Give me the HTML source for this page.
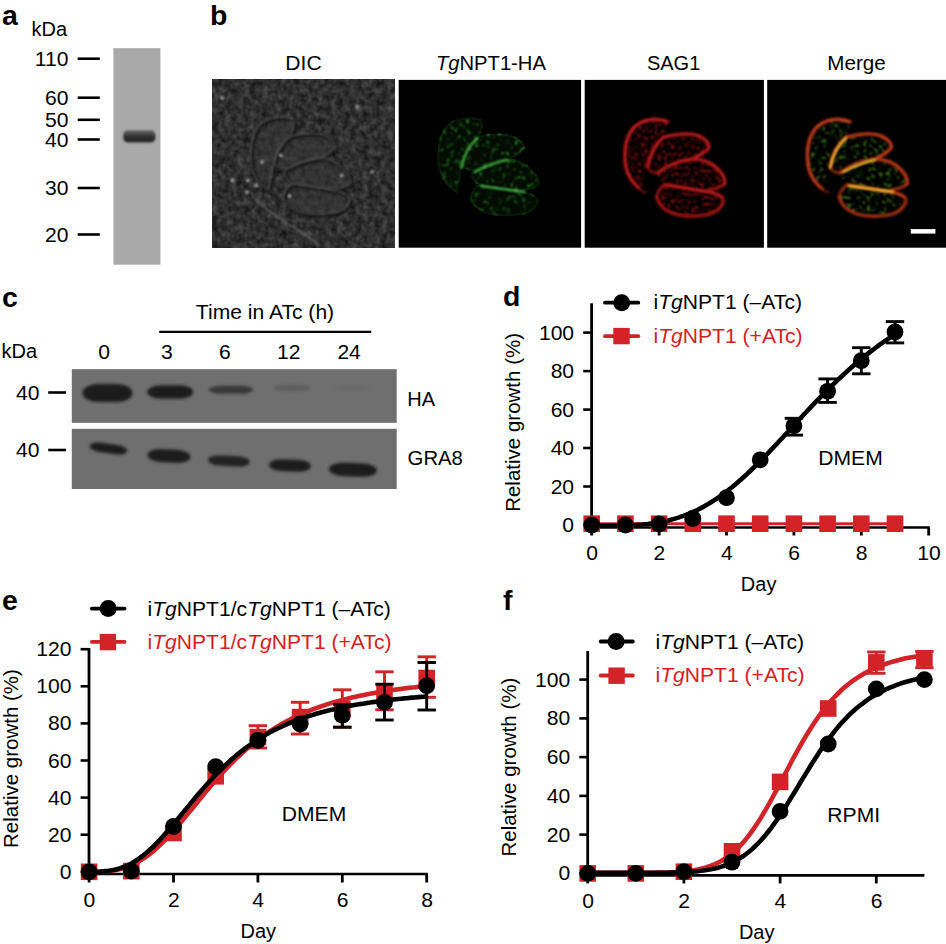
<!DOCTYPE html><html><head><meta charset="utf-8"><style>html,body{margin:0;padding:0;background:#fff;overflow:hidden;width:946px;height:944px;}svg{display:block;font-family:"Liberation Sans", sans-serif;}</style></head><body>
<svg width="946" height="944" viewBox="0 0 946 944">
<defs>
<g id="cells"><path d="M82,40 C70,37 55,38 47,48 C40,58 38,76 41,90 C44,100 50,107 57,111 C60,104 60,96 62,88 C65,76 71,64 79,57 C83,51 84,44 82,40 Z"/><path d="M63,84 C66,70 72,61 81,57 C92,54 106,54 114,57 C121,60 125,65 125,68 C120,74 114,78 106,80 C95,82 84,86 76,90 C70,91 65,88 63,84 Z"/><path d="M73,93 C80,86 95,80 107,79 C118,79 126,84 132,90 C137,95 141,100 140,104 C136,108 129,110 120,110 C105,109 92,107 82,105 C77,103 73,98 73,93 Z"/><path d="M72,118 C74,110 78,106 82,105 C95,107 110,110 124,112 C132,114 138,117 139,121 C137,128 131,133 122,134 C108,136 95,136 86,132 C78,128 73,123 72,118 Z"/></g>
<filter id="blur1" x="-20%" y="-20%" width="140%" height="140%"><feGaussianBlur stdDeviation="1"/></filter>
<filter id="blur2" x="-50%" y="-50%" width="200%" height="200%"><feGaussianBlur stdDeviation="1.7"/></filter>
<filter id="blur15" x="-50%" y="-50%" width="200%" height="200%"><feGaussianBlur stdDeviation="1.6"/></filter>
<filter id="blur3" x="-50%" y="-50%" width="200%" height="200%"><feGaussianBlur stdDeviation="3"/></filter>
<filter id="dic" x="0" y="0" width="100%" height="100%" color-interpolation-filters="sRGB"><feTurbulence type="fractalNoise" baseFrequency="0.16" numOctaves="2" seed="3" result="n"/><feColorMatrix in="n" type="matrix" values="0.3 0 0 0 0.035  0.3 0 0 0 0.035  0.3 0 0 0 0.035  0 0 0 0 1"/></filter>
<filter id="spG" x="0" y="0" width="100%" height="100%" color-interpolation-filters="sRGB"><feTurbulence type="fractalNoise" baseFrequency="0.25" numOctaves="2" seed="7" result="n"/><feColorMatrix in="n" type="matrix" values="0 0 0 0 0.22  0 0 0 0 0.68  0 0 0 0 0.22  4.0 0 0 0 -2.3" result="c"/><feGaussianBlur in="c" stdDeviation="0.8" result="cb"/><feComposite in="cb" in2="SourceAlpha" operator="in"/></filter>
<filter id="spR" x="0" y="0" width="100%" height="100%" color-interpolation-filters="sRGB"><feTurbulence type="fractalNoise" baseFrequency="0.3" numOctaves="2" seed="11" result="n"/><feColorMatrix in="n" type="matrix" values="0 0 0 0 0.7  0 0 0 0 0.08  0 0 0 0 0.08  4.0 0 0 0 -2.0" result="c"/><feGaussianBlur in="c" stdDeviation="0.8" result="cb"/><feComposite in="cb" in2="SourceAlpha" operator="in"/></filter>
<filter id="spM" x="0" y="0" width="100%" height="100%" color-interpolation-filters="sRGB"><feTurbulence type="fractalNoise" baseFrequency="0.25" numOctaves="2" seed="5" result="n"/><feColorMatrix in="n" type="matrix" values="0 0 0 0 0.3  0 0 0 0 0.6  0 0 0 0 0.12  4.0 0 0 0 -2.2" result="c"/><feGaussianBlur in="c" stdDeviation="0.8" result="cb"/><feComposite in="cb" in2="SourceAlpha" operator="in"/></filter>
</defs>
<text transform="translate(2.0,25.0) scale(1.055,1)" font-size="27" text-anchor="start" fill="#000" font-weight="bold" >a</text>
<text transform="translate(31.6,35.6) scale(1.000,1)" font-size="20" text-anchor="start" fill="#000" font-weight="normal" >kDa</text>
<text transform="translate(68.5,65.7) scale(1.055,1)" font-size="20" text-anchor="end" fill="#000" font-weight="normal" >110</text>
<line x1="77.7" y1="58.7" x2="99.8" y2="58.7" stroke="#000" stroke-width="2.6" stroke-linecap="butt"/>
<text transform="translate(68.5,104.7) scale(1.055,1)" font-size="20" text-anchor="end" fill="#000" font-weight="normal" >60</text>
<line x1="77.7" y1="97.7" x2="99.8" y2="97.7" stroke="#000" stroke-width="2.6" stroke-linecap="butt"/>
<text transform="translate(68.5,126.8) scale(1.055,1)" font-size="20" text-anchor="end" fill="#000" font-weight="normal" >50</text>
<line x1="77.7" y1="119.8" x2="99.8" y2="119.8" stroke="#000" stroke-width="2.6" stroke-linecap="butt"/>
<text transform="translate(68.5,146.5) scale(1.055,1)" font-size="20" text-anchor="end" fill="#000" font-weight="normal" >40</text>
<line x1="77.7" y1="139.5" x2="99.8" y2="139.5" stroke="#000" stroke-width="2.6" stroke-linecap="butt"/>
<text transform="translate(68.5,195.0) scale(1.055,1)" font-size="20" text-anchor="end" fill="#000" font-weight="normal" >30</text>
<line x1="77.7" y1="188.0" x2="99.8" y2="188.0" stroke="#000" stroke-width="2.6" stroke-linecap="butt"/>
<text transform="translate(68.5,241.5) scale(1.055,1)" font-size="20" text-anchor="end" fill="#000" font-weight="normal" >20</text>
<line x1="77.7" y1="234.5" x2="99.8" y2="234.5" stroke="#000" stroke-width="2.6" stroke-linecap="butt"/>
<rect x="113.4" y="48.2" width="47" height="216.5" fill="#a9a9a9"/>
<linearGradient id="gband" x1="0" y1="0" x2="0" y2="1"><stop offset="0" stop-color="#6a6a6a"/><stop offset="0.45" stop-color="#363636"/><stop offset="0.8" stop-color="#252525"/><stop offset="1" stop-color="#2e2e2e"/></linearGradient>
<rect x="123.3" y="130.2" width="32" height="12.3" rx="4" ry="5" fill="url(#gband)" filter="url(#blur1)"/>
<text transform="translate(210.0,25.0) scale(1.055,1)" font-size="27" text-anchor="start" fill="#000" font-weight="bold" >b</text>
<text transform="translate(303.5,69.8) scale(1.055,1)" font-size="20" text-anchor="middle" fill="#000" font-weight="normal" >DIC</text>
<text transform="translate(490.9,69.8) scale(1.010,1)" font-size="20" text-anchor="middle" fill="#000" font-weight="normal" ><tspan font-style="italic">Tg</tspan>NPT1-HA</text>
<text transform="translate(673.6,69.6) scale(1.000,1)" font-size="20" text-anchor="middle" fill="#000" font-weight="normal" >SAG1</text>
<text transform="translate(856.5,70.0) scale(1.030,1)" font-size="20" text-anchor="middle" fill="#000" font-weight="normal" >Merge</text>
<rect x="212.1" y="79.9" width="182.1" height="167.8" fill="#333" filter="url(#dic)"/>
<g transform="translate(212.1,79.9)">
<use href="#cells" fill="#383838" opacity="0.5" filter="url(#blur1)"/>
<use href="#cells" fill="none" stroke="#161616" stroke-width="2.6" opacity="0.9" filter="url(#blur1)" transform="translate(0.8,0.8)"/>
<use href="#cells" fill="none" stroke="#5a5a5a" stroke-width="1.2" opacity="0.8" filter="url(#blur1)" transform="translate(-1.2,-1.2)"/>
<circle cx="35.8" cy="100.6" r="1.9" fill="#a8a8a8" opacity="0.9" filter="url(#blur1)"/>
<circle cx="44.0" cy="105.4" r="1.9" fill="#a8a8a8" opacity="0.9" filter="url(#blur1)"/>
<circle cx="34.8" cy="112.2" r="1.9" fill="#a8a8a8" opacity="0.9" filter="url(#blur1)"/>
<circle cx="68.7" cy="75.4" r="1.9" fill="#a8a8a8" opacity="0.9" filter="url(#blur1)"/>
<circle cx="49.9" cy="82.2" r="1.9" fill="#a8a8a8" opacity="0.9" filter="url(#blur1)"/>
<circle cx="77.4" cy="116.0" r="1.9" fill="#a8a8a8" opacity="0.9" filter="url(#blur1)"/>
<circle cx="129.6" cy="95.7" r="1.9" fill="#a8a8a8" opacity="0.9" filter="url(#blur1)"/>
<circle cx="20.3" cy="100.6" r="1.9" fill="#a8a8a8" opacity="0.9" filter="url(#blur1)"/>
<circle cx="160.0" cy="92.0" r="1.9" fill="#a8a8a8" opacity="0.9" filter="url(#blur1)"/>
<circle cx="145.0" cy="27.0" r="1.9" fill="#a8a8a8" opacity="0.9" filter="url(#blur1)"/>
<circle cx="10.0" cy="18.0" r="1.9" fill="#a8a8a8" opacity="0.9" filter="url(#blur1)"/>
<path d="M40,116 C50,126 58,132 67,138 C80,147 95,155 108,166" fill="none" stroke="#6a6a6a" stroke-width="1.8" opacity="0.75" filter="url(#blur1)"/>
</g>
<rect x="398.7" y="79.9" width="182.4" height="167.8" fill="#000"/>
<g transform="translate(398.7,79.9)">
<use href="#cells" fill="#030b03" stroke="#071a07" stroke-width="2"/>
<g filter="url(#spG)"><use href="#cells" fill="#fff" stroke="#fff" stroke-width="3"/></g>
<g fill="none" stroke="#4cbf4c" stroke-width="2.2" stroke-linecap="round" filter="url(#blur1)" opacity="0.9"><path d="M79,58 C71,65 65,76 63,88"/><path d="M76,92 C88,86 98,82 108,80"/><path d="M82,106 C95,108 110,110 126,112"/></g>
</g>
<rect x="584.7" y="79.9" width="179.2" height="167.8" fill="#000"/>
<g transform="translate(584.7,79.9)">
<g filter="url(#spR)" opacity="0.8"><use href="#cells" fill="#fff"/></g>
<g fill="none" stroke="#901212" stroke-width="4.5" stroke-linecap="round" filter="url(#blur2)" opacity="0.45"><path d="M83,42 C72,37 57,39 48,49 C41,58 39,72 41,86 C43,96 48,103 54,108" opacity="1.00"/><path d="M54,108 C56,111 59,112 61,112" opacity="0.35"/><path d="M79,57 C71,64 65,75 63,87" opacity="1.00"/><path d="M80,57 C92,54 106,53 114,56 C121,59 125,64 124,68 C121,72 116,75 110,78" opacity="1.00"/><path d="M73,93 C82,86 95,81 107,79 C118,79 127,83 133,89 C138,94 141,99 140,104" opacity="1.00"/><path d="M140,104 C137,107 131,109 124,110" opacity="0.70"/><path d="M80,105 C95,107 110,110 124,112 C130,113 135,115 138,118" opacity="1.00"/><path d="M72,117 C74,125 79,130 87,133 C97,137 110,137 122,135 C131,133 137,128 139,121" opacity="0.80"/><path d="M72,117 C73,111 76,107 80,105" opacity="0.60"/><path d="M63,87 C64,91 68,93 73,93" opacity="0.50"/></g>
<g fill="none" stroke="#c41c1c" stroke-width="2.4" stroke-linecap="round" filter="url(#blur1)"><path d="M83,42 C72,37 57,39 48,49 C41,58 39,72 41,86 C43,96 48,103 54,108" opacity="1.00"/><path d="M54,108 C56,111 59,112 61,112" opacity="0.35"/><path d="M79,57 C71,64 65,75 63,87" opacity="1.00"/><path d="M80,57 C92,54 106,53 114,56 C121,59 125,64 124,68 C121,72 116,75 110,78" opacity="1.00"/><path d="M73,93 C82,86 95,81 107,79 C118,79 127,83 133,89 C138,94 141,99 140,104" opacity="1.00"/><path d="M140,104 C137,107 131,109 124,110" opacity="0.70"/><path d="M80,105 C95,107 110,110 124,112 C130,113 135,115 138,118" opacity="1.00"/><path d="M72,117 C74,125 79,130 87,133 C97,137 110,137 122,135 C131,133 137,128 139,121" opacity="0.80"/><path d="M72,117 C73,111 76,107 80,105" opacity="0.60"/><path d="M63,87 C64,91 68,93 73,93" opacity="0.50"/></g>
</g>
<rect x="767.2" y="79.9" width="178.8" height="167.8" fill="#000"/>
<g transform="translate(767.2,79.9)">
<g filter="url(#spM)"><use href="#cells" fill="#fff"/></g>
<g fill="none" stroke="#902010" stroke-width="4.5" stroke-linecap="round" filter="url(#blur2)" opacity="0.45"><path d="M83,42 C72,37 57,39 48,49 C41,58 39,72 41,86 C43,96 48,103 54,108" opacity="1.00"/><path d="M54,108 C56,111 59,112 61,112" opacity="0.35"/><path d="M79,57 C71,64 65,75 63,87" opacity="1.00"/><path d="M80,57 C92,54 106,53 114,56 C121,59 125,64 124,68 C121,72 116,75 110,78" opacity="1.00"/><path d="M73,93 C82,86 95,81 107,79 C118,79 127,83 133,89 C138,94 141,99 140,104" opacity="1.00"/><path d="M140,104 C137,107 131,109 124,110" opacity="0.70"/><path d="M80,105 C95,107 110,110 124,112 C130,113 135,115 138,118" opacity="1.00"/><path d="M72,117 C74,125 79,130 87,133 C97,137 110,137 122,135 C131,133 137,128 139,121" opacity="0.80"/><path d="M72,117 C73,111 76,107 80,105" opacity="0.60"/><path d="M63,87 C64,91 68,93 73,93" opacity="0.50"/></g>
<g fill="none" stroke="#c8401c" stroke-width="2.4" stroke-linecap="round" filter="url(#blur1)"><path d="M83,42 C72,37 57,39 48,49 C41,58 39,72 41,86 C43,96 48,103 54,108" opacity="1.00"/><path d="M54,108 C56,111 59,112 61,112" opacity="0.35"/><path d="M79,57 C71,64 65,75 63,87" opacity="1.00"/><path d="M80,57 C92,54 106,53 114,56 C121,59 125,64 124,68 C121,72 116,75 110,78" opacity="1.00"/><path d="M73,93 C82,86 95,81 107,79 C118,79 127,83 133,89 C138,94 141,99 140,104" opacity="1.00"/><path d="M140,104 C137,107 131,109 124,110" opacity="0.70"/><path d="M80,105 C95,107 110,110 124,112 C130,113 135,115 138,118" opacity="1.00"/><path d="M72,117 C74,125 79,130 87,133 C97,137 110,137 122,135 C131,133 137,128 139,121" opacity="0.80"/><path d="M72,117 C73,111 76,107 80,105" opacity="0.60"/><path d="M63,87 C64,91 68,93 73,93" opacity="0.50"/></g>
<g fill="none" stroke="#e0c030" stroke-width="2.2" stroke-linecap="round" filter="url(#blur1)"><path d="M79,58 C71,65 65,76 63,88"/><path d="M76,92 C88,86 98,82 108,80"/><path d="M82,106 C95,108 110,110 126,112"/></g>
</g>
<rect x="910.8" y="229.1" width="24.6" height="4.5" fill="#fff"/>
<text transform="translate(2.0,307.0) scale(1.055,1)" font-size="27" text-anchor="start" fill="#000" font-weight="bold" >c</text>
<text transform="translate(265.0,318.5) scale(1.055,1)" font-size="20" text-anchor="middle" fill="#000" font-weight="normal" >Time in ATc (h)</text>
<line x1="159.2" y1="331.8" x2="371.2" y2="331.8" stroke="#000" stroke-width="2.2" stroke-linecap="butt"/>
<text transform="translate(1.5,357.8) scale(1.000,1)" font-size="20" text-anchor="start" fill="#000" font-weight="normal" >kDa</text>
<text transform="translate(104.2,359.2) scale(1.055,1)" font-size="20" text-anchor="middle" fill="#000" font-weight="normal" >0</text>
<text transform="translate(166.8,359.2) scale(1.055,1)" font-size="20" text-anchor="middle" fill="#000" font-weight="normal" >3</text>
<text transform="translate(224.9,359.2) scale(1.055,1)" font-size="20" text-anchor="middle" fill="#000" font-weight="normal" >6</text>
<text transform="translate(288.7,359.2) scale(1.055,1)" font-size="20" text-anchor="middle" fill="#000" font-weight="normal" >12</text>
<text transform="translate(349.1,359.2) scale(1.055,1)" font-size="20" text-anchor="middle" fill="#000" font-weight="normal" >24</text>
<rect x="71.8" y="369.2" width="324.9" height="53.6" fill="#6f6f6f"/>
<rect x="71.8" y="428.8" width="324.9" height="60.2" fill="#6f6f6f"/>
<text transform="translate(39.5,400.0) scale(1.055,1)" font-size="20" text-anchor="end" fill="#000" font-weight="normal" >40</text>
<line x1="48.2" y1="392.5" x2="66.0" y2="392.5" stroke="#000" stroke-width="2.6" stroke-linecap="butt"/>
<text transform="translate(39.5,457.0) scale(1.055,1)" font-size="20" text-anchor="end" fill="#000" font-weight="normal" >40</text>
<line x1="48.2" y1="450.0" x2="66.0" y2="450.0" stroke="#000" stroke-width="2.6" stroke-linecap="butt"/>
<text transform="translate(407.3,405.5) scale(1.000,1)" font-size="20" text-anchor="start" fill="#000" font-weight="normal" >HA</text>
<text transform="translate(407.6,465.0) scale(1.015,1)" font-size="20" text-anchor="start" fill="#000" font-weight="normal" >GRA8</text>
<rect x="82.5" y="384.0" width="50.0" height="18.0" rx="15.0" ry="9.0" fill="#1a1a1a" transform="rotate(0.0 107.5 393.0)" filter="url(#blur2)"/>
<rect x="147.2" y="385.2" width="46.0" height="13.5" rx="13.8" ry="6.8" fill="#1f1f1f" transform="rotate(0.0 170.2 392.0)" filter="url(#blur2)"/>
<rect x="209.0" y="385.8" width="44.0" height="8.0" rx="13.2" ry="4.0" fill="#383838" transform="rotate(0.0 231.0 389.8)" filter="url(#blur2)"/>
<rect x="273.0" y="385.0" width="38.0" height="6.0" rx="11.4" ry="3.0" fill="#5e5e5e" transform="rotate(0.0 292.0 388.0)" filter="url(#blur2)"/>
<rect x="334.0" y="385.0" width="36.0" height="6.0" rx="10.8" ry="3.0" fill="#6a6a6a" transform="rotate(0.0 352.0 388.0)" filter="url(#blur2)"/>
<rect x="89.5" y="443.8" width="38.0" height="9.5" rx="11.4" ry="4.8" fill="#1f1f1f" transform="rotate(8.0 108.5 448.5)" filter="url(#blur2)"/>
<rect x="147.5" y="449.5" width="43.0" height="13.0" rx="12.9" ry="6.5" fill="#1c1c1c" transform="rotate(3.0 169.0 456.0)" filter="url(#blur2)"/>
<rect x="208.0" y="455.8" width="42.0" height="10.5" rx="12.6" ry="5.2" fill="#202020" transform="rotate(3.0 229.0 461.0)" filter="url(#blur2)"/>
<rect x="269.0" y="459.4" width="42.0" height="12.0" rx="12.6" ry="6.0" fill="#1e1e1e" transform="rotate(2.0 290.0 465.4)" filter="url(#blur2)"/>
<rect x="329.0" y="462.9" width="48.0" height="13.5" rx="14.4" ry="6.8" fill="#1c1c1c" transform="rotate(2.0 353.0 469.6)" filter="url(#blur2)"/>
<text transform="translate(503.0,306.2) scale(1.055,1)" font-size="27" text-anchor="start" fill="#000" font-weight="bold" >d</text>
<line x1="591.6" y1="303.3" x2="591.6" y2="528.8" stroke="#000" stroke-width="2.8" stroke-linecap="butt"/>
<line x1="590.2" y1="527.5" x2="929.8" y2="527.5" stroke="#000" stroke-width="2.6" stroke-linecap="butt"/>
<line x1="583.2" y1="525.0" x2="591.6" y2="525.0" stroke="#000" stroke-width="2.6" stroke-linecap="butt"/>
<text transform="translate(574.1,532.0) scale(1.055,1)" font-size="20" text-anchor="end" fill="#000" font-weight="normal" >0</text>
<line x1="583.2" y1="486.5" x2="591.6" y2="486.5" stroke="#000" stroke-width="2.6" stroke-linecap="butt"/>
<text transform="translate(574.1,493.5) scale(1.055,1)" font-size="20" text-anchor="end" fill="#000" font-weight="normal" >20</text>
<line x1="583.2" y1="448.0" x2="591.6" y2="448.0" stroke="#000" stroke-width="2.6" stroke-linecap="butt"/>
<text transform="translate(574.1,455.0) scale(1.055,1)" font-size="20" text-anchor="end" fill="#000" font-weight="normal" >40</text>
<line x1="583.2" y1="409.6" x2="591.6" y2="409.6" stroke="#000" stroke-width="2.6" stroke-linecap="butt"/>
<text transform="translate(574.1,416.6) scale(1.055,1)" font-size="20" text-anchor="end" fill="#000" font-weight="normal" >60</text>
<line x1="583.2" y1="371.1" x2="591.6" y2="371.1" stroke="#000" stroke-width="2.6" stroke-linecap="butt"/>
<text transform="translate(574.1,378.1) scale(1.055,1)" font-size="20" text-anchor="end" fill="#000" font-weight="normal" >80</text>
<line x1="583.2" y1="332.6" x2="591.6" y2="332.6" stroke="#000" stroke-width="2.6" stroke-linecap="butt"/>
<text transform="translate(574.1,339.6) scale(1.055,1)" font-size="20" text-anchor="end" fill="#000" font-weight="normal" >100</text>
<line x1="591.7" y1="527.5" x2="591.7" y2="535.5" stroke="#000" stroke-width="2.8" stroke-linecap="butt"/>
<text transform="translate(592.0,560.1) scale(1.055,1)" font-size="20" text-anchor="middle" fill="#000" font-weight="normal" >0</text>
<line x1="659.1" y1="527.5" x2="659.1" y2="535.5" stroke="#000" stroke-width="2.8" stroke-linecap="butt"/>
<text transform="translate(659.4,560.1) scale(1.055,1)" font-size="20" text-anchor="middle" fill="#000" font-weight="normal" >2</text>
<line x1="726.5" y1="527.5" x2="726.5" y2="535.5" stroke="#000" stroke-width="2.8" stroke-linecap="butt"/>
<text transform="translate(726.8,560.1) scale(1.055,1)" font-size="20" text-anchor="middle" fill="#000" font-weight="normal" >4</text>
<line x1="793.9" y1="527.5" x2="793.9" y2="535.5" stroke="#000" stroke-width="2.8" stroke-linecap="butt"/>
<text transform="translate(794.2,560.1) scale(1.055,1)" font-size="20" text-anchor="middle" fill="#000" font-weight="normal" >6</text>
<line x1="861.3" y1="527.5" x2="861.3" y2="535.5" stroke="#000" stroke-width="2.8" stroke-linecap="butt"/>
<text transform="translate(861.6,560.1) scale(1.055,1)" font-size="20" text-anchor="middle" fill="#000" font-weight="normal" >8</text>
<line x1="928.7" y1="527.5" x2="928.7" y2="535.5" stroke="#000" stroke-width="2.8" stroke-linecap="butt"/>
<text transform="translate(929.0,560.1) scale(1.055,1)" font-size="20" text-anchor="middle" fill="#000" font-weight="normal" >10</text>
<text transform="translate(520.4,422.4) rotate(-90)" font-size="20.5" text-anchor="middle">Relative growth (%)</text>
<text transform="translate(758.6,590.6) scale(1.000,1)" font-size="20" text-anchor="middle" fill="#000" font-weight="normal" >Day</text>
<text transform="translate(850.5,465.3) scale(1.055,1)" font-size="20" text-anchor="middle" fill="#000" font-weight="normal" >DMEM</text>
<line x1="591.7" y1="523.7" x2="895.0" y2="523.7" stroke="#d12328" stroke-width="3.0" stroke-linecap="butt"/>
<path d="M591.7,525.8 L594.2,525.8 L596.8,525.8 L599.3,525.8 L601.9,525.8 L604.4,525.8 L607.0,525.8 L609.5,525.8 L612.1,525.8 L614.6,525.7 L617.2,525.7 L619.7,525.7 L622.3,525.6 L624.8,525.5 L627.4,525.4 L629.9,525.3 L632.5,525.2 L635.0,525.1 L637.6,524.9 L640.1,524.7 L642.7,524.5 L645.2,524.2 L647.8,524.0 L650.3,523.6 L652.9,523.3 L655.4,522.9 L658.0,522.5 L660.5,522.1 L663.1,521.6 L665.6,521.0 L668.2,520.4 L670.7,519.8 L673.3,519.1 L675.8,518.4 L678.4,517.6 L680.9,516.7 L683.5,515.8 L686.0,514.9 L688.6,513.9 L691.1,512.8 L693.6,511.7 L696.2,510.5 L698.7,509.2 L701.3,507.9 L703.8,506.6 L706.4,505.1 L708.9,503.6 L711.5,502.0 L714.0,500.4 L716.6,498.7 L719.1,497.0 L721.7,495.2 L724.2,493.3 L726.8,491.3 L729.3,489.3 L731.9,487.3 L734.4,485.2 L737.0,483.0 L739.5,480.8 L742.1,478.5 L744.6,476.2 L747.2,473.9 L749.7,471.5 L752.3,469.0 L754.8,466.5 L757.4,464.0 L759.9,461.4 L762.5,458.8 L765.0,456.2 L767.6,453.6 L770.1,450.9 L772.7,448.2 L775.2,445.5 L777.8,442.8 L780.3,440.0 L782.9,437.3 L785.4,434.5 L788.0,431.8 L790.5,429.0 L793.1,426.2 L795.6,423.5 L798.1,420.7 L800.7,418.0 L803.2,415.2 L805.8,412.5 L808.3,409.8 L810.9,407.1 L813.4,404.4 L816.0,401.7 L818.5,399.1 L821.1,396.5 L823.6,393.9 L826.2,391.3 L828.7,388.8 L831.3,386.2 L833.8,383.8 L836.4,381.3 L838.9,378.9 L841.5,376.5 L844.0,374.1 L846.6,371.8 L849.1,369.5 L851.7,367.2 L854.2,365.0 L856.8,362.8 L859.3,360.7 L861.9,358.5 L864.4,356.5 L867.0,354.4 L869.5,352.4 L872.1,350.4 L874.6,348.5 L877.2,346.6 L879.7,344.7 L882.3,342.9 L884.8,341.1 L887.4,339.3 L889.9,337.6 L892.5,335.9 L895.0,334.2" fill="none" stroke="#000" stroke-width="4.6" stroke-linejoin="round"/>
<rect x="583.4" y="515.4" width="16.6" height="16.6" fill="#d12328"/>
<rect x="617.1" y="515.4" width="16.6" height="16.6" fill="#d12328"/>
<rect x="650.8" y="515.4" width="16.6" height="16.6" fill="#d12328"/>
<rect x="684.5" y="515.4" width="16.6" height="16.6" fill="#d12328"/>
<rect x="718.2" y="515.4" width="16.6" height="16.6" fill="#d12328"/>
<rect x="751.9" y="515.4" width="16.6" height="16.6" fill="#d12328"/>
<rect x="785.6" y="515.4" width="16.6" height="16.6" fill="#d12328"/>
<rect x="819.3" y="515.4" width="16.6" height="16.6" fill="#d12328"/>
<rect x="853.0" y="515.4" width="16.6" height="16.6" fill="#d12328"/>
<rect x="886.7" y="515.4" width="16.6" height="16.6" fill="#d12328"/>
<line x1="793.9" y1="418.3" x2="793.9" y2="435.1" stroke="#000" stroke-width="2.9" stroke-linecap="butt"/>
<line x1="784.7" y1="418.3" x2="803.1" y2="418.3" stroke="#000" stroke-width="2.9" stroke-linecap="butt"/>
<line x1="784.7" y1="435.1" x2="803.1" y2="435.1" stroke="#000" stroke-width="2.9" stroke-linecap="butt"/>
<line x1="827.6" y1="378.9" x2="827.6" y2="402.4" stroke="#000" stroke-width="2.9" stroke-linecap="butt"/>
<line x1="818.4" y1="378.9" x2="836.8" y2="378.9" stroke="#000" stroke-width="2.9" stroke-linecap="butt"/>
<line x1="818.4" y1="402.4" x2="836.8" y2="402.4" stroke="#000" stroke-width="2.9" stroke-linecap="butt"/>
<line x1="861.3" y1="347.7" x2="861.3" y2="373.8" stroke="#000" stroke-width="2.9" stroke-linecap="butt"/>
<line x1="852.1" y1="347.7" x2="870.5" y2="347.7" stroke="#000" stroke-width="2.9" stroke-linecap="butt"/>
<line x1="852.1" y1="373.8" x2="870.5" y2="373.8" stroke="#000" stroke-width="2.9" stroke-linecap="butt"/>
<line x1="895.0" y1="321.6" x2="895.0" y2="342.9" stroke="#000" stroke-width="2.9" stroke-linecap="butt"/>
<line x1="885.8" y1="321.6" x2="904.2" y2="321.6" stroke="#000" stroke-width="2.9" stroke-linecap="butt"/>
<line x1="885.8" y1="342.9" x2="904.2" y2="342.9" stroke="#000" stroke-width="2.9" stroke-linecap="butt"/>
<circle cx="591.7" cy="525.0" r="8.4" fill="#000"/>
<circle cx="625.4" cy="525.0" r="8.4" fill="#000"/>
<circle cx="659.1" cy="524.0" r="8.4" fill="#000"/>
<circle cx="692.8" cy="518.5" r="8.4" fill="#000"/>
<circle cx="726.5" cy="497.7" r="8.4" fill="#000"/>
<circle cx="760.2" cy="459.8" r="8.4" fill="#000"/>
<circle cx="793.9" cy="425.7" r="8.4" fill="#000"/>
<circle cx="827.6" cy="391.3" r="8.4" fill="#000"/>
<circle cx="861.3" cy="360.7" r="8.4" fill="#000"/>
<circle cx="895.0" cy="332.0" r="8.4" fill="#000"/>
<line x1="605.0" y1="302.7" x2="638.3" y2="302.7" stroke="#000" stroke-width="3.8" stroke-linecap="round"/>
<circle cx="621.7" cy="302.7" r="8.5" fill="#000"/>
<line x1="605.0" y1="336.2" x2="638.3" y2="336.2" stroke="#d12328" stroke-width="3.8" stroke-linecap="round"/>
<rect x="613.3" y="327.9" width="16.4" height="16.4" fill="#d12328"/>
<text transform="translate(653.5,309.4) scale(1.055,1)" font-size="20" text-anchor="start" fill="#000" font-weight="normal" >i<tspan font-style="italic">Tg</tspan>NPT1 (–ATc)</text>
<text transform="translate(653.5,343.1) scale(1.055,1)" font-size="20" text-anchor="start" fill="#d81c22" font-weight="normal" >i<tspan font-style="italic">Tg</tspan>NPT1 (+ATc)</text>
<text transform="translate(2.0,610.1) scale(1.055,1)" font-size="27" text-anchor="start" fill="#000" font-weight="bold" >e</text>
<line x1="89.0" y1="648.1" x2="89.0" y2="875.3" stroke="#000" stroke-width="2.8" stroke-linecap="butt"/>
<line x1="87.6" y1="874.0" x2="427.9" y2="874.0" stroke="#000" stroke-width="2.6" stroke-linecap="butt"/>
<line x1="80.6" y1="871.8" x2="89.0" y2="871.8" stroke="#000" stroke-width="2.6" stroke-linecap="butt"/>
<text transform="translate(71.5,878.8) scale(1.055,1)" font-size="20" text-anchor="end" fill="#000" font-weight="normal" >0</text>
<line x1="80.6" y1="834.7" x2="89.0" y2="834.7" stroke="#000" stroke-width="2.6" stroke-linecap="butt"/>
<text transform="translate(71.5,841.7) scale(1.055,1)" font-size="20" text-anchor="end" fill="#000" font-weight="normal" >20</text>
<line x1="80.6" y1="797.6" x2="89.0" y2="797.6" stroke="#000" stroke-width="2.6" stroke-linecap="butt"/>
<text transform="translate(71.5,804.6) scale(1.055,1)" font-size="20" text-anchor="end" fill="#000" font-weight="normal" >40</text>
<line x1="80.6" y1="760.5" x2="89.0" y2="760.5" stroke="#000" stroke-width="2.6" stroke-linecap="butt"/>
<text transform="translate(71.5,767.5) scale(1.055,1)" font-size="20" text-anchor="end" fill="#000" font-weight="normal" >60</text>
<line x1="80.6" y1="723.4" x2="89.0" y2="723.4" stroke="#000" stroke-width="2.6" stroke-linecap="butt"/>
<text transform="translate(71.5,730.4) scale(1.055,1)" font-size="20" text-anchor="end" fill="#000" font-weight="normal" >80</text>
<line x1="80.6" y1="686.3" x2="89.0" y2="686.3" stroke="#000" stroke-width="2.6" stroke-linecap="butt"/>
<text transform="translate(71.5,693.3) scale(1.055,1)" font-size="20" text-anchor="end" fill="#000" font-weight="normal" >100</text>
<line x1="80.6" y1="649.2" x2="89.0" y2="649.2" stroke="#000" stroke-width="2.6" stroke-linecap="butt"/>
<text transform="translate(71.5,656.2) scale(1.055,1)" font-size="20" text-anchor="end" fill="#000" font-weight="normal" >120</text>
<line x1="89.1" y1="874.0" x2="89.1" y2="882.5" stroke="#000" stroke-width="2.8" stroke-linecap="butt"/>
<text transform="translate(89.4,907.2) scale(1.055,1)" font-size="20" text-anchor="middle" fill="#000" font-weight="normal" >0</text>
<line x1="173.5" y1="874.0" x2="173.5" y2="882.5" stroke="#000" stroke-width="2.8" stroke-linecap="butt"/>
<text transform="translate(173.8,907.2) scale(1.055,1)" font-size="20" text-anchor="middle" fill="#000" font-weight="normal" >2</text>
<line x1="257.9" y1="874.0" x2="257.9" y2="882.5" stroke="#000" stroke-width="2.8" stroke-linecap="butt"/>
<text transform="translate(258.2,907.2) scale(1.055,1)" font-size="20" text-anchor="middle" fill="#000" font-weight="normal" >4</text>
<line x1="342.3" y1="874.0" x2="342.3" y2="882.5" stroke="#000" stroke-width="2.8" stroke-linecap="butt"/>
<text transform="translate(342.6,907.2) scale(1.055,1)" font-size="20" text-anchor="middle" fill="#000" font-weight="normal" >6</text>
<line x1="426.7" y1="874.0" x2="426.7" y2="882.5" stroke="#000" stroke-width="2.8" stroke-linecap="butt"/>
<text transform="translate(427.0,907.2) scale(1.055,1)" font-size="20" text-anchor="middle" fill="#000" font-weight="normal" >8</text>
<text transform="translate(17.9,758.5) rotate(-90)" font-size="20.5" text-anchor="middle">Relative growth (%)</text>
<text transform="translate(258.3,938.3) scale(1.000,1)" font-size="20" text-anchor="middle" fill="#000" font-weight="normal" >Day</text>
<text transform="translate(314.0,821.2) scale(1.055,1)" font-size="20" text-anchor="middle" fill="#000" font-weight="normal" >DMEM</text>
<line x1="257.9" y1="725.7" x2="257.9" y2="748.0" stroke="#d12328" stroke-width="2.9" stroke-linecap="butt"/>
<line x1="248.7" y1="725.7" x2="267.1" y2="725.7" stroke="#d12328" stroke-width="2.9" stroke-linecap="butt"/>
<line x1="248.7" y1="748.0" x2="267.1" y2="748.0" stroke="#d12328" stroke-width="2.9" stroke-linecap="butt"/>
<line x1="300.1" y1="702.3" x2="300.1" y2="734.0" stroke="#d12328" stroke-width="2.9" stroke-linecap="butt"/>
<line x1="290.9" y1="702.3" x2="309.3" y2="702.3" stroke="#d12328" stroke-width="2.9" stroke-linecap="butt"/>
<line x1="290.9" y1="734.0" x2="309.3" y2="734.0" stroke="#d12328" stroke-width="2.9" stroke-linecap="butt"/>
<line x1="342.3" y1="689.8" x2="342.3" y2="727.2" stroke="#d12328" stroke-width="2.9" stroke-linecap="butt"/>
<line x1="333.1" y1="689.8" x2="351.5" y2="689.8" stroke="#d12328" stroke-width="2.9" stroke-linecap="butt"/>
<line x1="333.1" y1="727.2" x2="351.5" y2="727.2" stroke="#d12328" stroke-width="2.9" stroke-linecap="butt"/>
<line x1="384.5" y1="671.8" x2="384.5" y2="709.8" stroke="#d12328" stroke-width="2.9" stroke-linecap="butt"/>
<line x1="375.3" y1="671.8" x2="393.7" y2="671.8" stroke="#d12328" stroke-width="2.9" stroke-linecap="butt"/>
<line x1="375.3" y1="709.8" x2="393.7" y2="709.8" stroke="#d12328" stroke-width="2.9" stroke-linecap="butt"/>
<line x1="426.7" y1="656.8" x2="426.7" y2="697.3" stroke="#d12328" stroke-width="2.9" stroke-linecap="butt"/>
<line x1="417.5" y1="656.8" x2="435.9" y2="656.8" stroke="#d12328" stroke-width="2.9" stroke-linecap="butt"/>
<line x1="417.5" y1="697.3" x2="435.9" y2="697.3" stroke="#d12328" stroke-width="2.9" stroke-linecap="butt"/>
<path d="M89.1,871.8 L91.9,871.8 L94.8,871.8 L97.6,871.7 L100.4,871.7 L103.3,871.5 L106.1,871.3 L109.0,871.1 L111.8,870.7 L114.6,870.3 L117.5,869.7 L120.3,869.1 L123.1,868.3 L126.0,867.4 L128.8,866.3 L131.7,865.1 L134.5,863.8 L137.3,862.3 L140.2,860.6 L143.0,858.8 L145.8,856.9 L148.7,854.8 L151.5,852.6 L154.4,850.2 L157.2,847.6 L160.0,845.0 L162.9,842.2 L165.7,839.3 L168.5,836.3 L171.4,833.2 L174.2,830.0 L177.0,826.7 L179.9,823.4 L182.7,820.0 L185.6,816.6 L188.4,813.1 L191.2,809.7 L194.1,806.2 L196.9,802.7 L199.7,799.2 L202.6,795.8 L205.4,792.4 L208.3,789.0 L211.1,785.6 L213.9,782.3 L216.8,779.1 L219.6,775.9 L222.4,772.8 L225.3,769.7 L228.1,766.7 L230.9,763.8 L233.8,760.9 L236.6,758.2 L239.5,755.5 L242.3,752.9 L245.1,750.3 L248.0,747.8 L250.8,745.5 L253.6,743.1 L256.5,740.9 L259.3,738.7 L262.2,736.6 L265.0,734.6 L267.8,732.6 L270.7,730.7 L273.5,728.9 L276.3,727.1 L279.2,725.4 L282.0,723.8 L284.9,722.2 L287.7,720.7 L290.5,719.2 L293.4,717.8 L296.2,716.4 L299.0,715.1 L301.9,713.8 L304.7,712.6 L307.5,711.4 L310.4,710.3 L313.2,709.2 L316.1,708.1 L318.9,707.1 L321.7,706.1 L324.6,705.2 L327.4,704.2 L330.2,703.4 L333.1,702.5 L335.9,701.7 L338.8,700.9 L341.6,700.1 L344.4,699.4 L347.3,698.7 L350.1,698.0 L352.9,697.3 L355.8,696.7 L358.6,696.1 L361.4,695.5 L364.3,694.9 L367.1,694.3 L370.0,693.8 L372.8,693.2 L375.6,692.7 L378.5,692.3 L381.3,691.8 L384.1,691.3 L387.0,690.9 L389.8,690.5 L392.7,690.0 L395.5,689.6 L398.3,689.2 L401.2,688.9 L404.0,688.5 L406.8,688.1 L409.7,687.8 L412.5,687.5 L415.4,687.2 L418.2,686.8 L421.0,686.5 L423.9,686.2 L426.7,686.0" fill="none" stroke="#d12328" stroke-width="4.6"/>
<rect x="80.8" y="863.5" width="16.6" height="16.6" fill="#d12328"/>
<rect x="123.0" y="862.8" width="16.6" height="16.6" fill="#d12328"/>
<rect x="165.2" y="824.7" width="16.6" height="16.6" fill="#d12328"/>
<rect x="207.4" y="768.0" width="16.6" height="16.6" fill="#d12328"/>
<rect x="249.6" y="728.8" width="16.6" height="16.6" fill="#d12328"/>
<rect x="291.8" y="708.8" width="16.6" height="16.6" fill="#d12328"/>
<rect x="334.0" y="700.6" width="16.6" height="16.6" fill="#d12328"/>
<rect x="376.2" y="683.8" width="16.6" height="16.6" fill="#d12328"/>
<rect x="418.4" y="669.7" width="16.6" height="16.6" fill="#d12328"/>
<line x1="342.3" y1="704.5" x2="342.3" y2="727.2" stroke="#000" stroke-width="2.9" stroke-linecap="butt"/>
<line x1="333.1" y1="704.5" x2="351.5" y2="704.5" stroke="#000" stroke-width="2.9" stroke-linecap="butt"/>
<line x1="333.1" y1="727.2" x2="351.5" y2="727.2" stroke="#000" stroke-width="2.9" stroke-linecap="butt"/>
<line x1="384.5" y1="684.2" x2="384.5" y2="720.0" stroke="#000" stroke-width="2.9" stroke-linecap="butt"/>
<line x1="375.3" y1="684.2" x2="393.7" y2="684.2" stroke="#000" stroke-width="2.9" stroke-linecap="butt"/>
<line x1="375.3" y1="720.0" x2="393.7" y2="720.0" stroke="#000" stroke-width="2.9" stroke-linecap="butt"/>
<line x1="426.7" y1="662.5" x2="426.7" y2="710.0" stroke="#000" stroke-width="2.9" stroke-linecap="butt"/>
<line x1="417.5" y1="662.5" x2="435.9" y2="662.5" stroke="#000" stroke-width="2.9" stroke-linecap="butt"/>
<line x1="417.5" y1="710.0" x2="435.9" y2="710.0" stroke="#000" stroke-width="2.9" stroke-linecap="butt"/>
<path d="M89.1,871.8 L91.9,871.8 L94.8,871.8 L97.6,871.7 L100.4,871.6 L103.3,871.4 L106.1,871.1 L109.0,870.8 L111.8,870.3 L114.6,869.7 L117.5,869.0 L120.3,868.1 L123.1,867.1 L126.0,866.0 L128.8,864.7 L131.7,863.2 L134.5,861.5 L137.3,859.7 L140.2,857.7 L143.0,855.6 L145.8,853.3 L148.7,850.8 L151.5,848.2 L154.4,845.5 L157.2,842.6 L160.0,839.6 L162.9,836.5 L165.7,833.3 L168.5,830.1 L171.4,826.8 L174.2,823.4 L177.0,819.9 L179.9,816.5 L182.7,813.0 L185.6,809.6 L188.4,806.1 L191.2,802.6 L194.1,799.2 L196.9,795.8 L199.7,792.5 L202.6,789.2 L205.4,786.0 L208.3,782.8 L211.1,779.7 L213.9,776.6 L216.8,773.7 L219.6,770.8 L222.4,768.0 L225.3,765.3 L228.1,762.6 L230.9,760.0 L233.8,757.6 L236.6,755.1 L239.5,752.8 L242.3,750.6 L245.1,748.4 L248.0,746.3 L250.8,744.3 L253.6,742.3 L256.5,740.4 L259.3,738.6 L262.2,736.9 L265.0,735.2 L267.8,733.6 L270.7,732.0 L273.5,730.5 L276.3,729.1 L279.2,727.7 L282.0,726.4 L284.9,725.1 L287.7,723.9 L290.5,722.7 L293.4,721.5 L296.2,720.4 L299.0,719.4 L301.9,718.4 L304.7,717.4 L307.5,716.5 L310.4,715.5 L313.2,714.7 L316.1,713.8 L318.9,713.0 L321.7,712.2 L324.6,711.5 L327.4,710.8 L330.2,710.1 L333.1,709.4 L335.9,708.8 L338.8,708.1 L341.6,707.5 L344.4,706.9 L347.3,706.4 L350.1,705.8 L352.9,705.3 L355.8,704.8 L358.6,704.3 L361.4,703.9 L364.3,703.4 L367.1,703.0 L370.0,702.6 L372.8,702.1 L375.6,701.7 L378.5,701.4 L381.3,701.0 L384.1,700.6 L387.0,700.3 L389.8,700.0 L392.7,699.6 L395.5,699.3 L398.3,699.0 L401.2,698.7 L404.0,698.4 L406.8,698.2 L409.7,697.9 L412.5,697.6 L415.4,697.4 L418.2,697.1 L421.0,696.9 L423.9,696.7 L426.7,696.4" fill="none" stroke="#000" stroke-width="4.6"/>
<circle cx="89.1" cy="871.8" r="8.4" fill="#000"/>
<circle cx="131.3" cy="871.1" r="8.4" fill="#000"/>
<circle cx="173.5" cy="826.5" r="8.4" fill="#000"/>
<circle cx="215.7" cy="766.6" r="8.4" fill="#000"/>
<circle cx="257.9" cy="740.3" r="8.4" fill="#000"/>
<circle cx="300.1" cy="724.0" r="8.4" fill="#000"/>
<circle cx="342.3" cy="715.4" r="8.4" fill="#000"/>
<circle cx="384.5" cy="702.4" r="8.4" fill="#000"/>
<circle cx="426.7" cy="685.7" r="8.4" fill="#000"/>
<line x1="91.8" y1="608.6" x2="124.5" y2="608.6" stroke="#000" stroke-width="3.8" stroke-linecap="round"/>
<circle cx="108.2" cy="608.6" r="8.5" fill="#000"/>
<line x1="91.8" y1="641.8" x2="124.5" y2="641.8" stroke="#d12328" stroke-width="3.8" stroke-linecap="round"/>
<rect x="99.7" y="633.9" width="16.4" height="16.4" fill="#d12328"/>
<text transform="translate(147.5,616.1) scale(1.055,1)" font-size="20" text-anchor="start" fill="#000" font-weight="normal" >i<tspan font-style="italic">Tg</tspan>NPT1/c<tspan font-style="italic">Tg</tspan>NPT1 (–ATc)</text>
<text transform="translate(147.5,648.5) scale(1.055,1)" font-size="20" text-anchor="start" fill="#d81c22" font-weight="normal" >i<tspan font-style="italic">Tg</tspan>NPT1/c<tspan font-style="italic">Tg</tspan>NPT1 (+ATc)</text>
<text transform="translate(503.0,610.0) scale(1.055,1)" font-size="27" text-anchor="start" fill="#000" font-weight="bold" >f</text>
<line x1="587.7" y1="651.0" x2="587.7" y2="876.7" stroke="#000" stroke-width="2.8" stroke-linecap="butt"/>
<line x1="586.3" y1="875.4" x2="924.4" y2="875.4" stroke="#000" stroke-width="2.6" stroke-linecap="butt"/>
<line x1="579.3" y1="873.4" x2="587.7" y2="873.4" stroke="#000" stroke-width="2.6" stroke-linecap="butt"/>
<text transform="translate(570.2,880.4) scale(1.055,1)" font-size="20" text-anchor="end" fill="#000" font-weight="normal" >0</text>
<line x1="579.3" y1="834.6" x2="587.7" y2="834.6" stroke="#000" stroke-width="2.6" stroke-linecap="butt"/>
<text transform="translate(570.2,841.6) scale(1.055,1)" font-size="20" text-anchor="end" fill="#000" font-weight="normal" >20</text>
<line x1="579.3" y1="795.9" x2="587.7" y2="795.9" stroke="#000" stroke-width="2.6" stroke-linecap="butt"/>
<text transform="translate(570.2,802.9) scale(1.055,1)" font-size="20" text-anchor="end" fill="#000" font-weight="normal" >40</text>
<line x1="579.3" y1="757.1" x2="587.7" y2="757.1" stroke="#000" stroke-width="2.6" stroke-linecap="butt"/>
<text transform="translate(570.2,764.1) scale(1.055,1)" font-size="20" text-anchor="end" fill="#000" font-weight="normal" >60</text>
<line x1="579.3" y1="718.4" x2="587.7" y2="718.4" stroke="#000" stroke-width="2.6" stroke-linecap="butt"/>
<text transform="translate(570.2,725.4) scale(1.055,1)" font-size="20" text-anchor="end" fill="#000" font-weight="normal" >80</text>
<line x1="579.3" y1="679.6" x2="587.7" y2="679.6" stroke="#000" stroke-width="2.6" stroke-linecap="butt"/>
<text transform="translate(570.2,686.6) scale(1.055,1)" font-size="20" text-anchor="end" fill="#000" font-weight="normal" >100</text>
<line x1="587.7" y1="875.4" x2="587.7" y2="883.4" stroke="#000" stroke-width="2.8" stroke-linecap="butt"/>
<text transform="translate(588.0,908.0) scale(1.055,1)" font-size="20" text-anchor="middle" fill="#000" font-weight="normal" >0</text>
<line x1="683.9" y1="875.4" x2="683.9" y2="883.4" stroke="#000" stroke-width="2.8" stroke-linecap="butt"/>
<text transform="translate(684.2,908.0) scale(1.055,1)" font-size="20" text-anchor="middle" fill="#000" font-weight="normal" >2</text>
<line x1="780.1" y1="875.4" x2="780.1" y2="883.4" stroke="#000" stroke-width="2.8" stroke-linecap="butt"/>
<text transform="translate(780.4,908.0) scale(1.055,1)" font-size="20" text-anchor="middle" fill="#000" font-weight="normal" >4</text>
<line x1="876.3" y1="875.4" x2="876.3" y2="883.4" stroke="#000" stroke-width="2.8" stroke-linecap="butt"/>
<text transform="translate(876.6,908.0) scale(1.055,1)" font-size="20" text-anchor="middle" fill="#000" font-weight="normal" >6</text>
<text transform="translate(516.4,767.1) rotate(-90)" font-size="20.5" text-anchor="middle">Relative growth (%)</text>
<text transform="translate(756.7,939.2) scale(1.000,1)" font-size="20" text-anchor="middle" fill="#000" font-weight="normal" >Day</text>
<text transform="translate(853.7,821.6) scale(1.055,1)" font-size="20" text-anchor="middle" fill="#000" font-weight="normal" >RPMI</text>
<line x1="876.3" y1="652.0" x2="876.3" y2="673.3" stroke="#d12328" stroke-width="2.9" stroke-linecap="butt"/>
<line x1="867.1" y1="652.0" x2="885.5" y2="652.0" stroke="#d12328" stroke-width="2.9" stroke-linecap="butt"/>
<line x1="867.1" y1="673.3" x2="885.5" y2="673.3" stroke="#d12328" stroke-width="2.9" stroke-linecap="butt"/>
<line x1="924.4" y1="651.4" x2="924.4" y2="667.7" stroke="#d12328" stroke-width="2.9" stroke-linecap="butt"/>
<line x1="915.2" y1="651.4" x2="933.6" y2="651.4" stroke="#d12328" stroke-width="2.9" stroke-linecap="butt"/>
<line x1="915.2" y1="667.7" x2="933.6" y2="667.7" stroke="#d12328" stroke-width="2.9" stroke-linecap="butt"/>
<path d="M587.7,872.8 L590.5,872.8 L593.4,872.8 L596.2,872.8 L599.0,872.8 L601.8,872.8 L604.7,872.8 L607.5,872.8 L610.3,872.8 L613.2,872.8 L616.0,872.8 L618.8,872.8 L621.7,872.8 L624.5,872.8 L627.3,872.8 L630.1,872.8 L633.0,872.8 L635.8,872.8 L638.6,872.8 L641.5,872.8 L644.3,872.8 L647.1,872.8 L649.9,872.7 L652.8,872.7 L655.6,872.7 L658.4,872.6 L661.3,872.6 L664.1,872.5 L666.9,872.5 L669.8,872.4 L672.6,872.2 L675.4,872.1 L678.2,871.9 L681.1,871.7 L683.9,871.5 L686.7,871.2 L689.6,870.8 L692.4,870.4 L695.2,869.9 L698.0,869.4 L700.9,868.8 L703.7,868.1 L706.5,867.2 L709.4,866.3 L712.2,865.2 L715.0,864.1 L717.9,862.7 L720.7,861.2 L723.5,859.5 L726.3,857.7 L729.2,855.6 L732.0,853.4 L734.8,850.9 L737.7,848.3 L740.5,845.4 L743.3,842.2 L746.1,838.9 L749.0,835.3 L751.8,831.4 L754.6,827.4 L757.5,823.1 L760.3,818.7 L763.1,814.0 L766.0,809.2 L768.8,804.2 L771.6,799.1 L774.4,793.9 L777.3,788.6 L780.1,783.3 L782.9,777.9 L785.8,772.5 L788.6,767.2 L791.4,761.8 L794.2,756.6 L797.1,751.4 L799.9,746.4 L802.7,741.4 L805.6,736.6 L808.4,732.0 L811.2,727.5 L814.1,723.1 L816.9,719.0 L819.7,715.0 L822.5,711.2 L825.4,707.6 L828.2,704.1 L831.0,700.8 L833.9,697.7 L836.7,694.8 L839.5,692.0 L842.3,689.3 L845.2,686.8 L848.0,684.5 L850.8,682.3 L853.7,680.2 L856.5,678.3 L859.3,676.4 L862.2,674.7 L865.0,673.1 L867.8,671.6 L870.6,670.2 L873.5,668.8 L876.3,667.6 L879.1,666.4 L882.0,665.3 L884.8,664.3 L887.6,663.3 L890.4,662.4 L893.3,661.5 L896.1,660.8 L898.9,660.0 L901.8,659.3 L904.6,658.6 L907.4,658.0 L910.3,657.4 L913.1,656.9 L915.9,656.4 L918.7,655.9 L921.6,655.4 L924.4,655.0" fill="none" stroke="#d12328" stroke-width="4.6"/>
<rect x="579.4" y="865.1" width="16.6" height="16.6" fill="#d12328"/>
<rect x="627.5" y="865.1" width="16.6" height="16.6" fill="#d12328"/>
<rect x="675.6" y="863.4" width="16.6" height="16.6" fill="#d12328"/>
<rect x="723.7" y="843.0" width="16.6" height="16.6" fill="#d12328"/>
<rect x="771.8" y="773.6" width="16.6" height="16.6" fill="#d12328"/>
<rect x="819.9" y="700.2" width="16.6" height="16.6" fill="#d12328"/>
<rect x="868.0" y="654.1" width="16.6" height="16.6" fill="#d12328"/>
<rect x="916.1" y="650.0" width="16.6" height="16.6" fill="#d12328"/>
<path d="M587.7,872.8 L590.5,872.8 L593.4,872.8 L596.2,872.8 L599.0,872.8 L601.8,872.8 L604.7,872.8 L607.5,872.8 L610.3,872.8 L613.2,872.8 L616.0,872.8 L618.8,872.8 L621.7,872.8 L624.5,872.8 L627.3,872.8 L630.1,872.8 L633.0,872.8 L635.8,872.8 L638.6,872.8 L641.5,872.8 L644.3,872.8 L647.1,872.8 L649.9,872.8 L652.8,872.8 L655.6,872.8 L658.4,872.7 L661.3,872.7 L664.1,872.7 L666.9,872.7 L669.8,872.6 L672.6,872.6 L675.4,872.5 L678.2,872.4 L681.1,872.3 L683.9,872.2 L686.7,872.0 L689.6,871.9 L692.4,871.7 L695.2,871.4 L698.0,871.2 L700.9,870.8 L703.7,870.5 L706.5,870.1 L709.4,869.6 L712.2,869.0 L715.0,868.4 L717.9,867.7 L720.7,866.9 L723.5,866.0 L726.3,865.0 L729.2,863.8 L732.0,862.6 L734.8,861.1 L737.7,859.6 L740.5,857.9 L743.3,856.0 L746.1,854.0 L749.0,851.8 L751.8,849.4 L754.6,846.8 L757.5,844.0 L760.3,841.0 L763.1,837.9 L766.0,834.5 L768.8,831.0 L771.6,827.3 L774.4,823.4 L777.3,819.4 L780.1,815.2 L782.9,810.9 L785.8,806.4 L788.6,801.9 L791.4,797.3 L794.2,792.7 L797.1,788.0 L799.9,783.3 L802.7,778.6 L805.6,774.0 L808.4,769.4 L811.2,764.8 L814.1,760.3 L816.9,755.9 L819.7,751.6 L822.5,747.5 L825.4,743.4 L828.2,739.5 L831.0,735.8 L833.9,732.1 L836.7,728.6 L839.5,725.3 L842.3,722.1 L845.2,719.1 L848.0,716.2 L850.8,713.4 L853.7,710.8 L856.5,708.3 L859.3,706.0 L862.2,703.8 L865.0,701.7 L867.8,699.7 L870.6,697.8 L873.5,696.0 L876.3,694.4 L879.1,692.8 L882.0,691.4 L884.8,690.0 L887.6,688.7 L890.4,687.4 L893.3,686.3 L896.1,685.2 L898.9,684.2 L901.8,683.2 L904.6,682.3 L907.4,681.5 L910.3,680.7 L913.1,679.9 L915.9,679.2 L918.7,678.6 L921.6,677.9 L924.4,677.4" fill="none" stroke="#000" stroke-width="4.6"/>
<circle cx="587.7" cy="873.4" r="8.4" fill="#000"/>
<circle cx="635.8" cy="873.4" r="8.4" fill="#000"/>
<circle cx="683.9" cy="871.7" r="8.4" fill="#000"/>
<circle cx="732.0" cy="862.2" r="8.4" fill="#000"/>
<circle cx="780.1" cy="811.4" r="8.4" fill="#000"/>
<circle cx="828.2" cy="744.0" r="8.4" fill="#000"/>
<circle cx="876.3" cy="688.9" r="8.4" fill="#000"/>
<circle cx="924.4" cy="679.6" r="8.4" fill="#000"/>
<line x1="600.7" y1="641.5" x2="632.8" y2="641.5" stroke="#000" stroke-width="3.8" stroke-linecap="round"/>
<circle cx="616.1" cy="641.5" r="8.5" fill="#000"/>
<line x1="600.7" y1="675.5" x2="632.8" y2="675.5" stroke="#d12328" stroke-width="3.8" stroke-linecap="round"/>
<rect x="608.4" y="667.5" width="16.4" height="16.4" fill="#d12328"/>
<text transform="translate(655.5,648.9) scale(1.055,1)" font-size="20" text-anchor="start" fill="#000" font-weight="normal" >i<tspan font-style="italic">Tg</tspan>NPT1 (–ATc)</text>
<text transform="translate(655.5,682.1) scale(1.055,1)" font-size="20" text-anchor="start" fill="#d81c22" font-weight="normal" >i<tspan font-style="italic">Tg</tspan>NPT1 (+ATc)</text>
</svg></body></html>
